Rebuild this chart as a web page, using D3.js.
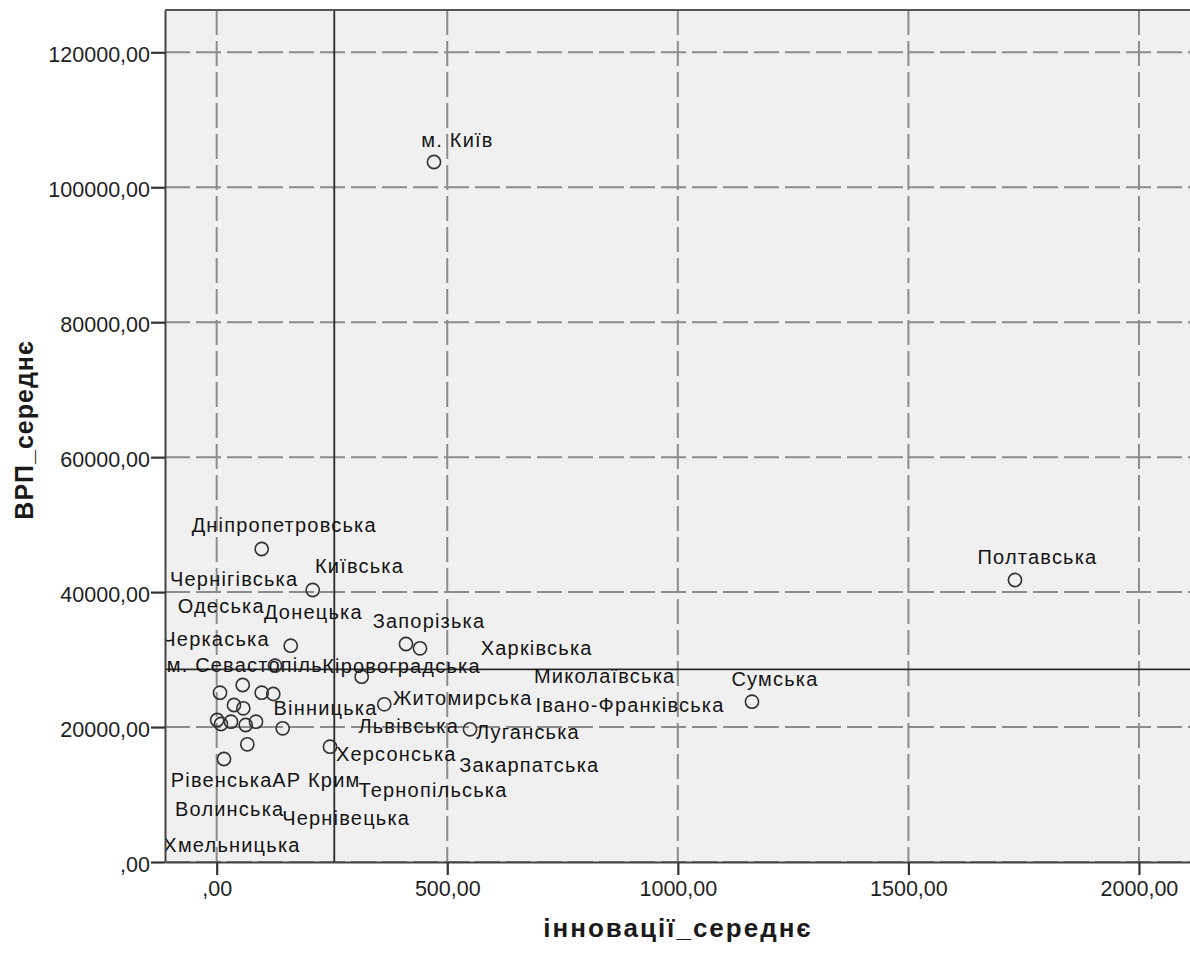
<!DOCTYPE html>
<html>
<head>
<meta charset="utf-8">
<script src="https://cdn.jsdelivr.net/npm/d3@7"></script>
<style>
  html, body { margin: 0; padding: 0; background: #ffffff; }
  svg { display: block; }
  text { font-family: "Liberation Sans", Arial, sans-serif; }
</style>
</head>
<body>
<svg id="chart" width="1190" height="953"></svg>
<script>
// ---- data ----
const categories = [
  "м. Київ", "Полтавська", "Сумська", "Дніпропетровська", "Київська",
  "Донецька", "Запорізька", "Харківська", "м. Севастопіль", "Кіровоградська",
  "Житомирська", "Луганська", "Херсонська", "Вінницька", "Черкаська",
  "Одеська", "Миколаївська", "Івано-Франківська", "Чернігівська", "Львівська",
  "Рівенська", "Волинська", "Хмельницька", "Тернопільська", "Закарпатська",
  "АР Крим", "Чернівецька"
];
const innovations = [
  471.2, 1731.1, 1160.8, 97.6, 208.2,
  160.5, 410.5, 440.9, 126.4, 314.4,
  363.4, 549.3, 245.7, 143.1, 7.2,
  56.4, 97.6, 122.7, 37.5, 57.7,
  1.0, 9.3, 31.0, 62.9, 85.2,
  66.4, 15.8
];
const grp = [
  103740, 41794, 23757, 46387, 40311,
  32056, 32308, 31671, 29092, 27462,
  23372, 19667, 17088, 19815, 25091,
  26232, 25091, 24898, 23268, 22779,
  21045, 20452, 20793, 20304, 20793,
  17443, 15265
];
const meanInnovations = 255.0;
const meanGrp = 28559;
const xTicks = [0, 500, 1000, 1500, 2000];
const xTickLabels = [",00", "500,00", "1000,00", "1500,00", "2000,00"];
const yTicks = [0, 20000, 40000, 60000, 80000, 100000, 120000];
const yTickLabels = [",00", "20000,00", "40000,00", "60000,00", "80000,00", "100000,00", "120000,00"];
const xTitle = "інновації_середнє";
const yTitle = "ВРП_середнє";

// ---- layout (label offsets in px from each point: [dx, dy]) ----
const labelOffsets = [
  [23.5, -15], [22.5, -16], [23, -15.7], [22.5, -17.3], [46.8, -17],
  [22.6, -26.7], [23, -16.3], [116.7, 6.7], [-30.2, 6], [39.8, -3.7],
  [78.5, 0.7], [58, 10], [66.3, 14.3], [42.8, -13.3], [-4, -47],
  [-21.5, -72], [343, -9.4], [356.7, 17.7], [0.2, -119], [165.4, 24.4],
  [4.5, 67.3], [8.7, 92], [1, 130], [187.3, 71.7], [273.3, 50],
  [69, 43], [122.2, 66]
];

const L = 165, R = 1195, T = 10, B = 862;
const svg = d3.select("#chart");

const x = d3.scaleLinear().domain([-112.1, 2121.5]).range([L, R]);
const y = d3.scaleLinear().domain([0, 126270]).range([B, T]);

svg.append("defs").append("clipPath").attr("id", "plotClip")
  .append("rect").attr("x", L).attr("y", T).attr("width", R - L).attr("height", B - T);

svg.append("rect").attr("x", L).attr("y", T).attr("width", R - L).attr("height", B - T)
  .attr("fill", "#f0f0f0");

const grid = svg.append("g").attr("clip-path", "url(#plotClip)");
grid.selectAll("line.gx").data(xTicks).join("line").attr("class", "gx")
  .attr("x1", d => x(d)).attr("x2", d => x(d)).attr("y1", T).attr("y2", B)
  .attr("stroke", "#8c8c8c").attr("stroke-width", 2).attr("stroke-dasharray", "25,6");
grid.selectAll("line.gy").data(yTicks).join("line").attr("class", "gy")
  .attr("x1", L).attr("x2", R).attr("y1", d => y(d)).attr("y2", d => y(d))
  .attr("stroke", "#8c8c8c").attr("stroke-width", 2).attr("stroke-dasharray", "25,6");

// reference (mean) lines
grid.append("line").attr("x1", x(meanInnovations)).attr("x2", x(meanInnovations))
  .attr("y1", T).attr("y2", B).attr("stroke", "#2a2a2a").attr("stroke-width", 1.8);
grid.append("line").attr("x1", L).attr("x2", R)
  .attr("y1", y(meanGrp)).attr("y2", y(meanGrp)).attr("stroke", "#2a2a2a").attr("stroke-width", 1.8);

const pts = categories.map((c, i) => ({ name: c, xv: innovations[i], yv: grp[i], off: labelOffsets[i] }));

const plot = svg.append("g").attr("clip-path", "url(#plotClip)");
plot.selectAll("circle").data(pts).join("circle")
  .attr("cx", d => x(d.xv)).attr("cy", d => y(d.yv)).attr("r", 6.6)
  .attr("fill", "none").attr("stroke", "#333").attr("stroke-width", 1.6);

plot.selectAll("text.lbl").data(pts).join("text").attr("class", "lbl")
  .attr("x", d => x(d.xv) + d.off[0]).attr("y", d => y(d.yv) + d.off[1])
  .attr("text-anchor", "middle").attr("font-size", 20).attr("letter-spacing", 1.2)
  .attr("fill", "#141414").text(d => d.name);

// axes
const yAxis = d3.axisLeft(y).tickValues(yTicks)
  .tickFormat((d, i) => yTickLabels[i]).tickSize(14).tickSizeOuter(0).tickPadding(1);
const gy = svg.append("g").attr("transform", `translate(${L},0)`).call(yAxis);
gy.selectAll("text").attr("font-size", 21.5).attr("dy", "0.42em").attr("fill", "#1e1e1e")
  .style("font-family", "'Liberation Sans', Arial, sans-serif");
gy.selectAll("line").attr("stroke", "#333").attr("stroke-width", 2.2);
gy.select(".domain").attr("stroke", "#444").attr("stroke-width", 2);

const xAxis = d3.axisBottom(x).tickValues(xTicks)
  .tickFormat((d, i) => xTickLabels[i]).tickSize(13).tickSizeOuter(0).tickPadding(5.7);
const gx = svg.append("g").attr("transform", `translate(0,${B})`).call(xAxis);
gx.selectAll("text").attr("font-size", 21.5).attr("fill", "#1e1e1e")
  .style("font-family", "'Liberation Sans', Arial, sans-serif");
gx.selectAll("line").attr("stroke", "#333").attr("stroke-width", 2.2);
gx.select(".domain").attr("stroke", "#444").attr("stroke-width", 2);

svg.append("line").attr("x1", L).attr("x2", R).attr("y1", T).attr("y2", T)
  .attr("stroke", "#555").attr("stroke-width", 2);

// titles
svg.append("text").attr("x", (L + R) / 2 - 2).attr("y", 937).attr("text-anchor", "middle")
  .attr("font-size", 26).attr("font-weight", "bold").attr("letter-spacing", 2)
  .attr("fill", "#1a1a1a").text(xTitle);
svg.append("text").attr("transform", `translate(33,${(T + B) / 2 - 6}) rotate(-90)`)
  .attr("text-anchor", "middle").attr("font-size", 25).attr("font-weight", "bold")
  .attr("letter-spacing", 1).attr("fill", "#1a1a1a").text(yTitle);
</script>
</body>
</html>
